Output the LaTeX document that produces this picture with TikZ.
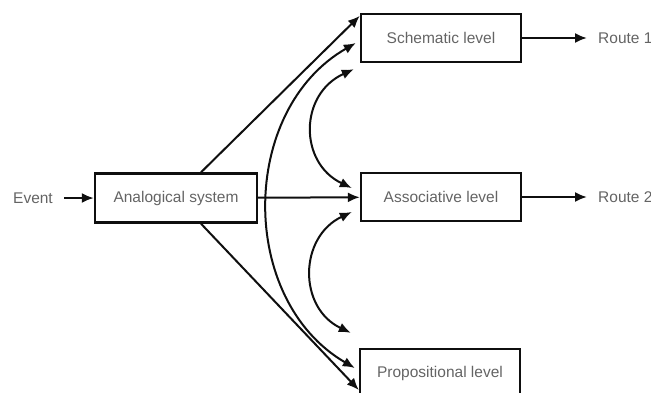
\documentclass[tikz,border=0pt]{standalone}
\usepackage{fontspec}
\setmainfont{Liberation Sans}
\usepackage{tikz}
\usetikzlibrary{arrows,arrows.meta,shapes,positioning}
\usepackage{xcolor}
\definecolor{txtgray}{RGB}{100,100,100}
\definecolor{linedark}{RGB}{15,15,15}
\tikzstyle{arrow} = [line width=2pt,-{Latex[length=12pt,width=10pt]},color=linedark]
\tikzstyle{twoway} = [line width=2pt,{Latex[length=12pt,width=10pt]}-{Latex[length=12pt,width=10pt]},color=linedark]
\tikzstyle{stage} = [rectangle, minimum width=160pt, minimum height=48pt, text centered, draw=linedark, line width=2.4pt, text=txtgray, font=\fontsize{15.5}{18}\selectfont]
\tikzstyle{label} = [inner xsep=11pt, inner ysep=0pt, text=txtgray, font=\fontsize{15.5}{18}\selectfont]

\begin{document}
\begin{tikzpicture}[x=1pt, y=-1pt]
\clip (0,0) rectangle (651,392);
% Boxes
\node[stage, minimum width=162pt, minimum height=49pt] (analog) at (176,198) {Analogical system};
\node[stage] (schematic) at (441,38) {Schematic level};
\node[stage] (associative) at (441,197) {Associative level};
\node[stage] (propositional) at (440,373) {Propositional level};

% Input and outputs
\node[label, anchor=east] (event) at (64,198) {Event};
\node[label, anchor=west] (routeA) at (587,38) {Route 1};
\node[label, anchor=west] (routeB) at (587,197) {Route 2};

% Straight arrows
\draw[arrow] (event) -- (analog);
\draw[arrow] (analog) -- (associative);
\draw[arrow] ([xshift=25pt]analog.north) -- ([yshift=-3pt]schematic.north west);
\draw[arrow] ([xshift=25pt]analog.south) -- ([yshift=-17pt]propositional.west);
\draw[arrow] (schematic) -- (routeA);
\draw[arrow] (associative) -- (routeB);

% Curved two-way arrows
\draw[twoway] ([xshift=-4pt,yshift=-5pt]schematic.west) .. controls +(-117,67) and +(-117,-68) .. ([xshift=-4pt,yshift=5pt]propositional.west);
\draw[twoway] ([xshift=-6pt,yshift=-6pt]schematic.south west) .. controls +(-55,25) and +(-53,-25) .. ([xshift=-8pt,yshift=9pt]associative.west);
\draw[twoway] ([xshift=-8pt,yshift=-15pt]associative.west) .. controls +(-53,25) and +(-53,-25) .. ([xshift=-8pt,yshift=15pt]propositional.north west);
\end{tikzpicture}
\end{document}
